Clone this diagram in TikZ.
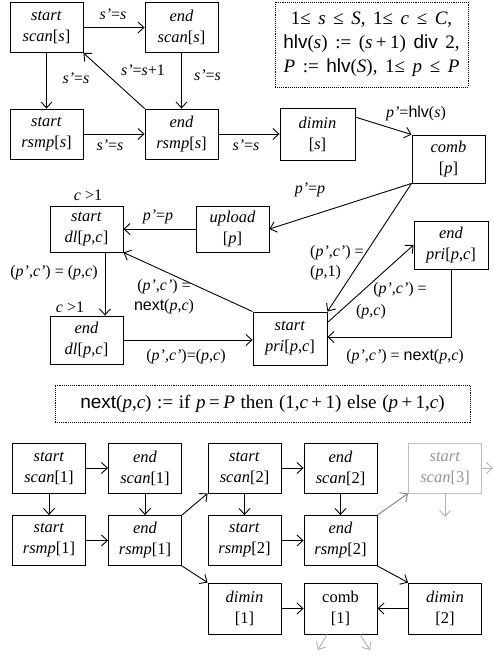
\documentclass[tikz,border=0pt]{standalone}
\usepackage{fontspec}
\setmainfont{Liberation Serif}
\newfontfamily\hlvfont{Liberation Sans}
\usetikzlibrary{arrows.meta}
\newcommand{\iv}[1]{\textit{#1}}
\newcommand{\sfn}[1]{{\hlvfont #1}}
\newcommand{\op}[1]{\hspace{0.18em}#1\hspace{0.18em}}
\newcommand{\wsp}{\spaceskip=0.4em plus 0.1em\relax}
\newcommand{\wspn}{\spaceskip=0.3em plus 0.1em\relax}
\begin{document}
\begin{tikzpicture}[x=1pt, y=-1pt,
  blk/.style={draw, line width=0.9pt, minimum width=73pt, minimum height=50pt,
    inner sep=0pt, align=center, font=\fontsize{16.5}{21}\selectfont},
  gblk/.style={blk, draw=black!25, text=black!42},
  lbl/.style={inner sep=0pt, align=left, font=\fontsize{16}{20}\selectfont},
  note/.style={draw, densely dotted, line width=0.9pt, inner sep=0pt, align=center,
    font=\fontsize{19}{24}\selectfont\wsp},
  arr/.style={line width=0.9pt, -{Straight Barb[length=6pt,width=11pt]}},
  garr/.style={arr, draw=black!50},
  stub/.style={arr, draw=black!30}]
  \useasboundingbox (0,0) rectangle (493,655);
  % scan / resample loop
  \node[blk] (ss) at (46.5,27.5) {\iv{start}\\\iv{scan}[\iv{s}]};
  \node[blk] (es) at (181.5,27.5) {\iv{end}\\\iv{scan}[\iv{s}]};
  \node[blk] (sr) at (46.5,134) {\iv{start}\\\iv{rsmp}[\iv{s}]};
  \node[blk] (er) at (181.5,134) {\iv{end}\\\iv{rsmp}[\iv{s}]};
  \node[blk, minimum width=75pt, minimum height=52pt] (dim) at (317.5,134) {\iv{dimin}\\{}[\iv{s}]};
  \node[blk, minimum height=48pt] (comb) at (448.5,159) {\iv{comb}\\{}[\iv{p}]};
  \node[note, minimum width=193pt, minimum height=85pt] (cond) at (371.5,44.5)
    {1≤ \iv{s} ≤ \iv{S}, 1≤ \iv{c} ≤ \iv{C},\\
     \sfn{hlv}(\iv{s}) := (\iv{s}\op{+}1) \sfn{div} 2,\\
     \iv{P} := \sfn{hlv}(\iv{S}), 1≤ \iv{p} ≤ \iv{P}};
  \draw[arr] (ss) -- (es);
  \draw[arr] (ss) -- (sr);
  \draw[arr] (es) -- (er);
  \draw[arr] (er.north west) -- (ss.south east);
  \draw[arr] (sr) -- (er);
  \draw[arr] (er) -- (dim);
  \draw[arr] (dim.24) -- (comb.north west);
  \node[lbl] (l1) at (113,14) {\iv{s'}=\iv{s}};
  \node[lbl] (l2) at (76,78) {\iv{s'}=\iv{s}};
  \node[lbl] (l3) at (143,70) {\iv{s'}=\iv{s}+1};
  \node[lbl] (l4) at (207.5,75) {\iv{s'}=\iv{s}};
  \node[lbl] (l5) at (110,145) {\iv{s'}=\iv{s}};
  \node[lbl] (l6) at (246,145) {\iv{s'}=\iv{s}};
  \node[lbl] (l7) at (416,113) {\iv{p'}=\sfn{hlv}(\iv{s})};
  % upload / download / priority
  \node[blk, minimum height=46pt] (upl) at (232.5,229) {\iv{upload}\\{}[\iv{p}]};
  \node[blk, minimum height=46pt] (sdl) at (86.5,229) {\iv{start}\\\iv{dl}[\iv{p},\iv{c}]};
  \node[blk, minimum height=48pt] (edl) at (86.5,340) {\iv{end}\\\iv{dl}[\iv{p},\iv{c}]};
  \node[blk, minimum width=74pt, minimum height=53pt] (spri) at (290,338.5) {\iv{start}\\\iv{pri}[\iv{p},\iv{c}]};
  \node[blk, minimum width=74pt, minimum height=48pt] (epri) at (451,245) {\iv{end}\\\iv{pri}[\iv{p},\iv{c}]};
  \draw[arr] (comb.south west) -- (upl.east);
  \draw[arr] (upl) -- (sdl);
  \draw[arr] ([xshift=18.5pt]sdl.south) -- ([xshift=18.5pt]edl.north);
  \draw[arr] (spri.north west) -- (sdl.south east);
  \draw[arr] (edl.east) -- (edl.east -| spri.west);
  \draw[arr] (epri.south) |- ([yshift=1.5pt]spri.east);
  \draw[arr] (comb.south west) -- (spri.north east);
  \draw[arr] ([yshift=-11pt]spri.north east) -- (epri.west);
  \node[lbl] (l8) at (310,190) {\iv{p'}=\iv{p}};
  \node[lbl] (l9) at (158,217) {\iv{p'}=\iv{p}};
  \node[lbl] (c1) at (88,195) {\iv{c} >1};
  \node[lbl] (c2) at (70,307) {\iv{c} >1};
  \node[lbl] (l10) at (54,273) {(\iv{p'},\iv{c'}) = (\iv{p},\iv{c})};
  \node[lbl, align=center] (l11) at (164,297) {(\iv{p'},\iv{c'}) =\\\sfn{next}(\iv{p},\iv{c})};
  \node[lbl] (l12) at (186,357) {(\iv{p'},\iv{c'})=(\iv{p},\iv{c})};
  \node[lbl, anchor=west] (l13) at (310,263) {(\iv{p'},\iv{c'}) =\\(\iv{p},1)};
  \node[lbl] (l14) at (400,290) {(\iv{p'},\iv{c'}) =};
  \node[lbl] (l15) at (371,312) {(\iv{p},\iv{c})};
  \node[lbl] (l16) at (405,357) {(\iv{p'},\iv{c'}) = \sfn{next}(\iv{p},\iv{c})};
  \node[note, minimum width=415pt, minimum height=37pt, font=\fontsize{19}{24}\selectfont\wspn] (nxt) at (262.5,403.5)
    {\sfn{next}(\iv{p},\iv{c}) := if \iv{p}\op{=}\iv{P} then (1,\iv{c}\op{+}1) else (\iv{p}\op{+}1,\iv{c})};
  % unrolled example
  \node[blk] (s1) at (49,468) {\iv{start}\\\iv{scan}[1]};
  \node[blk] (e1) at (145,468) {\iv{end}\\\iv{scan}[1]};
  \node[blk] (r1) at (49,540.5) {\iv{start}\\\iv{rsmp}[1]};
  \node[blk] (er1) at (145,540.5) {\iv{end}\\\iv{rsmp}[1]};
  \node[blk] (s2) at (244.5,468) {\iv{start}\\\iv{scan}[2]};
  \node[blk] (e2) at (340.5,468) {\iv{end}\\\iv{scan}[2]};
  \node[blk] (r2) at (244.5,540.5) {\iv{start}\\\iv{rsmp}[2]};
  \node[blk] (er2) at (340.5,540.5) {\iv{end}\\\iv{rsmp}[2]};
  \node[blk, minimum height=51pt] (d1) at (244.5,608.5) {\iv{dimin}\\{}[1]};
  \node[blk, minimum height=51pt] (cb1) at (340.5,608.5) {comb\\{}[1]};
  \node[blk, minimum height=51pt] (d2) at (445,608.5) {\iv{dimin}\\{}[2]};
  \node[gblk] (s3) at (445,468) {\iv{start}\\\iv{scan}[3]};
  \coordinate (s3r) at (493,468);
  \coordinate (s3d) at (445,517);
  \coordinate (cbl) at (318,650);
  \coordinate (cbr) at (370,650);
  \draw[arr] (s1) -- (e1);
  \draw[arr] (s1) -- (r1);
  \draw[arr] (e1) -- (er1);
  \draw[arr] (r1) -- (er1);
  \draw[arr] (er1.north east) -- (s2.south west);
  \draw[arr] (er1.south east) -- (d1.north west);
  \draw[arr] (s2) -- (e2);
  \draw[arr] (s2) -- (r2);
  \draw[arr] (e2) -- (er2);
  \draw[arr] (r2) -- (er2);
  \draw[garr] (er2.north east) -- (s3.south west);
  \draw[arr] (er2.south east) -- (d2.north west);
  \draw[arr] (d1) -- (cb1);
  \draw[arr] (d2) -- (cb1);
  \draw[stub] (s3) -- (s3r);
  \draw[stub] (s3) -- (s3d);
  \draw[stub] ([xshift=-13.5pt]cb1.south) -- (cbl);
  \draw[stub] ([xshift=19.5pt]cb1.south) -- (cbr);
\end{tikzpicture}
\end{document}
